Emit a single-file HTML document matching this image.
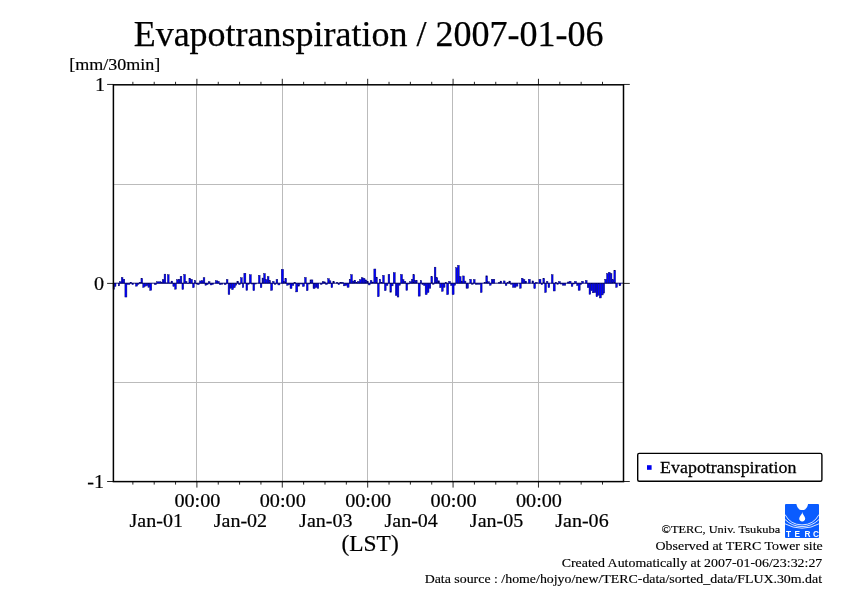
<!DOCTYPE html>
<html><head><meta charset="utf-8"><title>Evapotranspiration</title>
<style>
html,body{margin:0;padding:0;background:#fff;}
body{width:842px;height:595px;overflow:hidden;font-family:"Liberation Serif",serif;}
svg{display:block;position:absolute;left:0;top:0;will-change:transform;}
text{font-family:"Liberation Serif",serif;fill:#000;}
</style></head><body>
<svg width="842" height="595" viewBox="0 0 842 595">
<rect x="0" y="0" width="842" height="595" fill="#fff"/>

<g stroke="#bbbbbb" stroke-width="1" fill="none">
<line x1="196.5" y1="84.8" x2="196.5" y2="481.6"/>
<line x1="282.5" y1="84.8" x2="282.5" y2="481.6"/>
<line x1="367.5" y1="84.8" x2="367.5" y2="481.6"/>
<line x1="452.5" y1="84.8" x2="452.5" y2="481.6"/>
<line x1="538.5" y1="84.8" x2="538.5" y2="481.6"/>
<line x1="113.4" y1="184.5" x2="623.5" y2="184.5"/>
<line x1="113.4" y1="382.5" x2="623.5" y2="382.5"/>
</g>
<g fill="#0000ff" stroke="#000058" stroke-width="0.42">
<rect x="113.08" y="283.25" width="1.41" height="6.23"/>
<rect x="114.59" y="283.25" width="1.41" height="3.20"/>
<rect x="118.23" y="283.25" width="1.41" height="2.60"/>
<rect x="119.44" y="281.71" width="1.72" height="1.44"/>
<rect x="121.26" y="277.47" width="1.72" height="5.68"/>
<rect x="123.07" y="279.28" width="1.72" height="3.87"/>
<rect x="124.89" y="283.25" width="2.02" height="13.80"/>
<rect x="127.01" y="283.25" width="2.93" height="1.20"/>
<rect x="130.04" y="282.31" width="1.72" height="0.84"/>
<rect x="131.86" y="283.25" width="1.72" height="1.39"/>
<rect x="135.49" y="283.25" width="2.02" height="2.90"/>
<rect x="137.61" y="283.25" width="1.41" height="1.08"/>
<rect x="139.12" y="282.31" width="1.72" height="0.84"/>
<rect x="140.94" y="278.38" width="1.72" height="4.77"/>
<rect x="142.76" y="283.25" width="1.72" height="4.11"/>
<rect x="144.57" y="283.25" width="1.72" height="2.90"/>
<rect x="146.39" y="283.25" width="1.41" height="2.29"/>
<rect x="147.91" y="283.25" width="1.72" height="4.11"/>
<rect x="149.72" y="283.25" width="2.02" height="7.14"/>
<rect x="154.27" y="283.25" width="2.32" height="1.39"/>
<rect x="156.69" y="281.71" width="4.26" height="1.44"/>
<rect x="161.05" y="282.31" width="1.11" height="0.84"/>
<rect x="162.26" y="279.59" width="1.72" height="3.56"/>
<rect x="164.08" y="274.14" width="1.72" height="9.01"/>
<rect x="165.90" y="282.92" width="1.41" height="0.23"/>
<rect x="167.41" y="274.74" width="1.72" height="8.41"/>
<rect x="169.23" y="282.92" width="1.72" height="0.23"/>
<rect x="171.04" y="281.10" width="1.72" height="2.05"/>
<rect x="172.86" y="283.25" width="1.72" height="3.20"/>
<rect x="174.68" y="283.25" width="1.72" height="5.93"/>
<rect x="176.50" y="279.59" width="1.72" height="3.56"/>
<rect x="178.31" y="279.28" width="1.72" height="3.87"/>
<rect x="180.13" y="276.26" width="1.72" height="6.89"/>
<rect x="181.95" y="283.25" width="1.72" height="6.23"/>
<rect x="183.76" y="274.44" width="1.72" height="8.71"/>
<rect x="185.58" y="281.40" width="1.41" height="1.75"/>
<rect x="187.10" y="283.25" width="1.72" height="0.48"/>
<rect x="188.91" y="278.25" width="1.72" height="4.90"/>
<rect x="190.73" y="279.28" width="1.72" height="3.87"/>
<rect x="192.55" y="283.25" width="1.72" height="4.41"/>
<rect x="194.36" y="280.50" width="1.41" height="2.65"/>
<rect x="195.88" y="283.25" width="1.41" height="0.78"/>
<rect x="197.39" y="283.25" width="2.02" height="1.39"/>
<rect x="199.51" y="280.92" width="1.72" height="2.23"/>
<rect x="201.33" y="280.68" width="1.72" height="2.47"/>
<rect x="203.15" y="277.77" width="1.72" height="5.38"/>
<rect x="204.96" y="283.25" width="1.72" height="1.99"/>
<rect x="206.78" y="283.25" width="1.41" height="1.39"/>
<rect x="208.29" y="281.71" width="1.72" height="1.44"/>
<rect x="210.11" y="283.25" width="1.84" height="1.69"/>
<rect x="212.05" y="283.25" width="1.72" height="1.20"/>
<rect x="215.38" y="280.68" width="2.02" height="2.47"/>
<rect x="217.50" y="281.28" width="1.72" height="1.87"/>
<rect x="219.32" y="283.25" width="1.72" height="1.39"/>
<rect x="221.14" y="283.25" width="1.72" height="0.96"/>
<rect x="224.16" y="283.25" width="2.02" height="1.39"/>
<rect x="226.28" y="279.47" width="1.72" height="3.68"/>
<rect x="228.10" y="283.25" width="1.72" height="11.26"/>
<rect x="229.92" y="283.25" width="1.72" height="5.02"/>
<rect x="231.74" y="283.25" width="1.72" height="6.41"/>
<rect x="233.55" y="283.25" width="1.72" height="4.41"/>
<rect x="235.37" y="283.25" width="1.41" height="1.99"/>
<rect x="236.88" y="281.28" width="1.72" height="1.87"/>
<rect x="238.70" y="283.25" width="1.72" height="1.39"/>
<rect x="240.52" y="277.77" width="1.72" height="5.38"/>
<rect x="242.34" y="283.25" width="1.41" height="4.41"/>
<rect x="243.85" y="273.23" width="2.02" height="9.92"/>
<rect x="245.97" y="283.25" width="1.72" height="7.14"/>
<rect x="247.79" y="283.25" width="1.41" height="1.08"/>
<rect x="249.30" y="274.74" width="2.02" height="8.41"/>
<rect x="251.42" y="283.25" width="1.41" height="0.78"/>
<rect x="252.93" y="283.25" width="1.72" height="7.44"/>
<rect x="254.75" y="283.25" width="1.72" height="0.78"/>
<rect x="258.39" y="275.35" width="1.72" height="7.80"/>
<rect x="260.20" y="283.25" width="1.72" height="4.41"/>
<rect x="262.02" y="278.07" width="0.93" height="5.08"/>
<rect x="263.05" y="278.07" width="0.51" height="5.08"/>
<rect x="263.66" y="273.53" width="1.72" height="9.62"/>
<rect x="265.47" y="279.59" width="1.72" height="3.56"/>
<rect x="267.29" y="276.56" width="1.72" height="6.59"/>
<rect x="269.11" y="280.50" width="1.41" height="2.65"/>
<rect x="270.62" y="283.25" width="2.02" height="7.14"/>
<rect x="272.74" y="281.40" width="1.41" height="1.75"/>
<rect x="274.26" y="283.25" width="1.72" height="1.20"/>
<rect x="276.07" y="279.47" width="1.72" height="3.68"/>
<rect x="277.89" y="283.25" width="2.02" height="1.69"/>
<rect x="281.22" y="269.29" width="2.32" height="13.86"/>
<rect x="283.64" y="281.40" width="1.11" height="1.75"/>
<rect x="284.86" y="278.50" width="1.72" height="4.65"/>
<rect x="286.67" y="283.25" width="1.72" height="1.99"/>
<rect x="288.49" y="283.25" width="1.41" height="1.39"/>
<rect x="290.00" y="283.25" width="2.02" height="5.32"/>
<rect x="292.12" y="283.25" width="1.72" height="2.29"/>
<rect x="293.94" y="282.31" width="1.72" height="0.84"/>
<rect x="295.76" y="283.25" width="2.02" height="8.65"/>
<rect x="297.88" y="283.25" width="1.72" height="2.90"/>
<rect x="299.69" y="283.25" width="2.63" height="0.78"/>
<rect x="302.42" y="283.25" width="2.02" height="3.20"/>
<rect x="304.54" y="277.47" width="1.72" height="5.68"/>
<rect x="306.36" y="283.25" width="1.72" height="7.44"/>
<rect x="308.17" y="283.25" width="1.72" height="0.78"/>
<rect x="309.99" y="279.89" width="1.41" height="3.26"/>
<rect x="311.51" y="279.89" width="1.41" height="3.26"/>
<rect x="313.02" y="283.25" width="0.93" height="5.32"/>
<rect x="314.05" y="283.25" width="1.11" height="5.32"/>
<rect x="315.26" y="283.25" width="1.72" height="4.11"/>
<rect x="317.08" y="283.25" width="1.72" height="5.02"/>
<rect x="320.41" y="283.25" width="1.72" height="1.20"/>
<rect x="322.23" y="281.71" width="1.72" height="1.44"/>
<rect x="324.04" y="281.89" width="1.41" height="1.26"/>
<rect x="325.56" y="283.25" width="2.02" height="1.20"/>
<rect x="327.68" y="278.68" width="1.72" height="4.47"/>
<rect x="329.50" y="280.80" width="1.41" height="2.35"/>
<rect x="331.01" y="283.25" width="1.72" height="4.41"/>
<rect x="332.83" y="281.71" width="1.72" height="1.44"/>
<rect x="336.46" y="282.49" width="1.41" height="0.66"/>
<rect x="337.98" y="283.25" width="1.72" height="1.39"/>
<rect x="339.79" y="282.62" width="1.72" height="0.53"/>
<rect x="341.61" y="282.31" width="1.72" height="0.84"/>
<rect x="343.43" y="283.25" width="1.72" height="2.60"/>
<rect x="345.24" y="283.25" width="1.72" height="1.99"/>
<rect x="347.06" y="283.25" width="2.02" height="4.11"/>
<rect x="349.18" y="279.28" width="1.41" height="3.87"/>
<rect x="350.69" y="274.62" width="1.72" height="8.53"/>
<rect x="352.51" y="281.10" width="1.41" height="2.05"/>
<rect x="354.03" y="280.19" width="1.72" height="2.96"/>
<rect x="355.84" y="282.62" width="1.72" height="0.53"/>
<rect x="357.66" y="281.40" width="1.72" height="1.75"/>
<rect x="359.48" y="279.59" width="1.72" height="3.56"/>
<rect x="361.29" y="277.77" width="1.72" height="5.38"/>
<rect x="363.11" y="278.38" width="1.84" height="4.77"/>
<rect x="365.05" y="279.89" width="1.72" height="3.26"/>
<rect x="366.87" y="281.40" width="1.41" height="1.75"/>
<rect x="368.38" y="283.25" width="1.72" height="1.69"/>
<rect x="370.20" y="280.50" width="1.72" height="2.65"/>
<rect x="372.02" y="282.01" width="1.72" height="1.14"/>
<rect x="373.83" y="268.99" width="2.02" height="14.16"/>
<rect x="375.95" y="277.16" width="1.41" height="5.99"/>
<rect x="377.47" y="283.25" width="1.72" height="13.50"/>
<rect x="379.28" y="279.28" width="1.41" height="3.87"/>
<rect x="380.80" y="282.31" width="1.72" height="0.84"/>
<rect x="382.62" y="275.35" width="1.72" height="7.80"/>
<rect x="384.43" y="283.25" width="1.72" height="7.44"/>
<rect x="386.25" y="283.25" width="1.72" height="2.29"/>
<rect x="388.07" y="274.44" width="1.72" height="8.71"/>
<rect x="389.88" y="283.25" width="1.72" height="8.96"/>
<rect x="391.70" y="283.25" width="1.41" height="2.60"/>
<rect x="393.22" y="272.62" width="2.02" height="10.53"/>
<rect x="395.34" y="283.25" width="1.72" height="12.29"/>
<rect x="397.15" y="283.25" width="1.72" height="13.80"/>
<rect x="398.97" y="283.25" width="1.41" height="1.99"/>
<rect x="400.48" y="274.44" width="2.02" height="8.71"/>
<rect x="402.60" y="279.59" width="1.41" height="3.56"/>
<rect x="404.12" y="281.40" width="1.72" height="1.75"/>
<rect x="405.93" y="283.25" width="1.72" height="7.14"/>
<rect x="407.75" y="283.25" width="1.72" height="0.78"/>
<rect x="409.57" y="281.71" width="1.72" height="1.44"/>
<rect x="411.39" y="279.28" width="1.41" height="3.87"/>
<rect x="412.90" y="274.74" width="1.72" height="8.41"/>
<rect x="414.72" y="280.50" width="1.23" height="2.65"/>
<rect x="416.05" y="280.50" width="1.11" height="2.65"/>
<rect x="418.17" y="283.25" width="2.02" height="12.89"/>
<rect x="420.29" y="280.50" width="1.41" height="2.65"/>
<rect x="421.80" y="283.25" width="1.72" height="1.39"/>
<rect x="423.62" y="283.25" width="1.41" height="2.29"/>
<rect x="425.14" y="283.25" width="2.02" height="11.38"/>
<rect x="427.26" y="283.25" width="1.72" height="9.26"/>
<rect x="429.07" y="283.25" width="1.72" height="5.02"/>
<rect x="430.89" y="276.56" width="1.72" height="6.59"/>
<rect x="432.71" y="283.25" width="1.41" height="1.08"/>
<rect x="434.22" y="267.17" width="1.72" height="15.98"/>
<rect x="436.04" y="277.77" width="1.72" height="5.38"/>
<rect x="437.86" y="280.80" width="1.72" height="2.35"/>
<rect x="439.67" y="283.25" width="1.72" height="4.41"/>
<rect x="441.49" y="283.25" width="1.72" height="8.05"/>
<rect x="443.31" y="283.25" width="1.72" height="4.11"/>
<rect x="445.12" y="282.31" width="1.41" height="0.84"/>
<rect x="446.64" y="283.25" width="2.02" height="11.38"/>
<rect x="448.76" y="281.40" width="1.72" height="1.75"/>
<rect x="450.57" y="283.25" width="1.41" height="2.29"/>
<rect x="452.09" y="283.25" width="2.02" height="11.38"/>
<rect x="454.21" y="283.25" width="1.41" height="1.99"/>
<rect x="455.72" y="267.78" width="1.72" height="15.37"/>
<rect x="457.54" y="265.35" width="1.72" height="17.80"/>
<rect x="459.36" y="276.56" width="1.72" height="6.59"/>
<rect x="461.17" y="281.10" width="1.41" height="2.05"/>
<rect x="462.69" y="275.95" width="1.72" height="7.20"/>
<rect x="464.51" y="281.10" width="1.41" height="2.05"/>
<rect x="466.02" y="283.25" width="0.93" height="5.02"/>
<rect x="467.05" y="283.25" width="1.41" height="5.02"/>
<rect x="469.78" y="279.28" width="1.72" height="3.87"/>
<rect x="471.59" y="283.25" width="1.72" height="1.08"/>
<rect x="473.41" y="279.47" width="1.72" height="3.68"/>
<rect x="475.23" y="283.25" width="1.72" height="1.20"/>
<rect x="477.04" y="283.25" width="3.23" height="1.08"/>
<rect x="480.38" y="283.25" width="1.72" height="9.26"/>
<rect x="484.01" y="282.31" width="1.72" height="0.84"/>
<rect x="485.83" y="275.83" width="1.72" height="7.32"/>
<rect x="487.64" y="281.71" width="1.72" height="1.44"/>
<rect x="489.46" y="283.25" width="1.72" height="1.99"/>
<rect x="491.28" y="279.28" width="1.72" height="3.87"/>
<rect x="493.10" y="279.28" width="1.72" height="3.87"/>
<rect x="498.55" y="282.31" width="1.41" height="0.84"/>
<rect x="500.06" y="281.10" width="1.72" height="2.05"/>
<rect x="503.39" y="280.92" width="1.72" height="2.23"/>
<rect x="505.21" y="283.25" width="1.72" height="2.29"/>
<rect x="507.03" y="282.62" width="1.72" height="0.53"/>
<rect x="508.84" y="281.10" width="1.72" height="2.05"/>
<rect x="510.66" y="283.25" width="1.72" height="1.08"/>
<rect x="512.48" y="283.25" width="1.72" height="4.11"/>
<rect x="514.29" y="283.25" width="1.72" height="4.11"/>
<rect x="516.11" y="283.25" width="1.84" height="2.90"/>
<rect x="519.56" y="283.25" width="1.72" height="5.02"/>
<rect x="521.38" y="278.25" width="1.72" height="4.90"/>
<rect x="523.20" y="279.59" width="1.72" height="3.56"/>
<rect x="525.02" y="281.28" width="1.72" height="1.87"/>
<rect x="528.35" y="279.28" width="2.02" height="3.87"/>
<rect x="531.98" y="280.92" width="1.72" height="2.23"/>
<rect x="533.80" y="283.25" width="1.72" height="5.32"/>
<rect x="535.62" y="282.31" width="1.72" height="0.84"/>
<rect x="538.95" y="279.28" width="2.02" height="3.87"/>
<rect x="541.07" y="283.25" width="1.72" height="1.39"/>
<rect x="542.88" y="278.38" width="1.72" height="4.77"/>
<rect x="544.70" y="283.25" width="1.72" height="9.26"/>
<rect x="546.52" y="281.40" width="1.41" height="1.75"/>
<rect x="548.03" y="283.25" width="1.72" height="4.41"/>
<rect x="551.36" y="274.74" width="1.72" height="8.41"/>
<rect x="553.18" y="283.25" width="2.02" height="7.75"/>
<rect x="555.30" y="282.31" width="1.41" height="0.84"/>
<rect x="556.81" y="283.25" width="1.72" height="1.08"/>
<rect x="558.63" y="281.53" width="1.72" height="1.62"/>
<rect x="560.45" y="283.25" width="1.72" height="0.78"/>
<rect x="562.27" y="283.25" width="1.72" height="1.99"/>
<rect x="564.08" y="283.25" width="1.72" height="1.99"/>
<rect x="567.41" y="282.01" width="1.54" height="1.14"/>
<rect x="569.05" y="281.28" width="2.02" height="1.87"/>
<rect x="571.17" y="283.25" width="1.72" height="3.20"/>
<rect x="572.99" y="283.25" width="1.41" height="0.78"/>
<rect x="574.50" y="281.40" width="2.02" height="1.75"/>
<rect x="576.62" y="283.25" width="1.41" height="2.29"/>
<rect x="578.14" y="283.25" width="2.02" height="7.14"/>
<rect x="580.26" y="283.25" width="1.41" height="1.39"/>
<rect x="581.77" y="281.28" width="1.72" height="1.87"/>
<rect x="585.40" y="280.50" width="1.72" height="2.65"/>
<rect x="587.22" y="283.25" width="1.72" height="4.41"/>
<rect x="589.04" y="283.25" width="1.72" height="11.08"/>
<rect x="590.86" y="283.25" width="1.41" height="7.44"/>
<rect x="592.37" y="283.25" width="1.72" height="9.56"/>
<rect x="594.19" y="283.25" width="1.72" height="9.26"/>
<rect x="596.00" y="283.25" width="1.72" height="13.50"/>
<rect x="597.82" y="283.25" width="1.41" height="11.99"/>
<rect x="599.34" y="283.25" width="2.02" height="14.71"/>
<rect x="601.45" y="283.25" width="1.72" height="11.68"/>
<rect x="603.27" y="283.25" width="1.41" height="9.87"/>
<rect x="604.79" y="279.28" width="1.72" height="3.87"/>
<rect x="606.60" y="273.53" width="1.72" height="9.62"/>
<rect x="608.42" y="272.32" width="1.72" height="10.83"/>
<rect x="610.24" y="273.53" width="1.72" height="9.62"/>
<rect x="612.05" y="279.59" width="1.72" height="3.56"/>
<rect x="613.87" y="270.20" width="1.72" height="12.95"/>
<rect x="615.69" y="283.25" width="1.72" height="4.11"/>
<rect x="619.02" y="283.25" width="0.93" height="2.29"/>
<rect x="619.13" y="283.25" width="1.72" height="2.29"/>
</g>
<line x1="113.4" y1="283.20" x2="623.5" y2="283.20" stroke="#000070" stroke-width="0.9"/>
<rect x="113.4" y="84.8" width="510.10" height="396.80" fill="none" stroke="#000" stroke-width="1.5"/>
<g stroke="#000" stroke-width="0.85" fill="none">
<line x1="107.10000000000001" y1="84.45" x2="113.4" y2="84.45"/>
<line x1="623.5" y1="84.45" x2="629.8" y2="84.45"/>
<line x1="107.10000000000001" y1="283.40" x2="113.4" y2="283.40"/>
<line x1="623.5" y1="283.40" x2="629.8" y2="283.40"/>
<line x1="107.10000000000001" y1="481.50" x2="113.4" y2="481.50"/>
<line x1="623.5" y1="481.50" x2="629.8" y2="481.50"/>
<line x1="132.86" y1="481.6" x2="132.86" y2="484.6"/>
<line x1="132.86" y1="84.8" x2="132.86" y2="81.8"/>
<line x1="154.21" y1="481.6" x2="154.21" y2="484.6"/>
<line x1="154.21" y1="84.8" x2="154.21" y2="81.8"/>
<line x1="175.55" y1="481.6" x2="175.55" y2="484.6"/>
<line x1="175.55" y1="84.8" x2="175.55" y2="81.8"/>
<line x1="196.90" y1="481.6" x2="196.90" y2="487.6"/>
<line x1="196.90" y1="84.8" x2="196.90" y2="78.8"/>
<line x1="218.25" y1="481.6" x2="218.25" y2="484.6"/>
<line x1="218.25" y1="84.8" x2="218.25" y2="81.8"/>
<line x1="239.59" y1="481.6" x2="239.59" y2="484.6"/>
<line x1="239.59" y1="84.8" x2="239.59" y2="81.8"/>
<line x1="260.94" y1="481.6" x2="260.94" y2="484.6"/>
<line x1="260.94" y1="84.8" x2="260.94" y2="81.8"/>
<line x1="282.29" y1="481.6" x2="282.29" y2="487.6"/>
<line x1="282.29" y1="84.8" x2="282.29" y2="78.8"/>
<line x1="303.64" y1="481.6" x2="303.64" y2="484.6"/>
<line x1="303.64" y1="84.8" x2="303.64" y2="81.8"/>
<line x1="324.99" y1="481.6" x2="324.99" y2="484.6"/>
<line x1="324.99" y1="84.8" x2="324.99" y2="81.8"/>
<line x1="346.33" y1="481.6" x2="346.33" y2="484.6"/>
<line x1="346.33" y1="84.8" x2="346.33" y2="81.8"/>
<line x1="367.68" y1="481.6" x2="367.68" y2="487.6"/>
<line x1="367.68" y1="84.8" x2="367.68" y2="78.8"/>
<line x1="389.03" y1="481.6" x2="389.03" y2="484.6"/>
<line x1="389.03" y1="84.8" x2="389.03" y2="81.8"/>
<line x1="410.38" y1="481.6" x2="410.38" y2="484.6"/>
<line x1="410.38" y1="84.8" x2="410.38" y2="81.8"/>
<line x1="431.72" y1="481.6" x2="431.72" y2="484.6"/>
<line x1="431.72" y1="84.8" x2="431.72" y2="81.8"/>
<line x1="453.07" y1="481.6" x2="453.07" y2="487.6"/>
<line x1="453.07" y1="84.8" x2="453.07" y2="78.8"/>
<line x1="474.42" y1="481.6" x2="474.42" y2="484.6"/>
<line x1="474.42" y1="84.8" x2="474.42" y2="81.8"/>
<line x1="495.76" y1="481.6" x2="495.76" y2="484.6"/>
<line x1="495.76" y1="84.8" x2="495.76" y2="81.8"/>
<line x1="517.11" y1="481.6" x2="517.11" y2="484.6"/>
<line x1="517.11" y1="84.8" x2="517.11" y2="81.8"/>
<line x1="538.46" y1="481.6" x2="538.46" y2="487.6"/>
<line x1="538.46" y1="84.8" x2="538.46" y2="78.8"/>
<line x1="559.81" y1="481.6" x2="559.81" y2="484.6"/>
<line x1="559.81" y1="84.8" x2="559.81" y2="81.8"/>
<line x1="581.15" y1="481.6" x2="581.15" y2="484.6"/>
<line x1="581.15" y1="84.8" x2="581.15" y2="81.8"/>
<line x1="602.50" y1="481.6" x2="602.50" y2="484.6"/>
<line x1="602.50" y1="84.8" x2="602.50" y2="81.8"/>
</g>
<text transform="translate(368.60,46.00) scale(1.0,1)" font-size="36" text-anchor="middle" stroke="#000" stroke-width="0.25">Evapotranspiration / 2007-01-06</text>
<text transform="translate(69.20,69.70) scale(1.02,1)" font-size="17.7" text-anchor="start" stroke="#000" stroke-width="0.2">[mm/30min]</text>
<text transform="translate(105.20,91.20) scale(1.07,1)" font-size="18.9" text-anchor="end" stroke="#000" stroke-width="0.2">1</text>
<text transform="translate(104.20,289.60) scale(1.07,1)" font-size="18.9" text-anchor="end" stroke="#000" stroke-width="0.2">0</text>
<text transform="translate(104.20,488.00) scale(1.07,1)" font-size="18.9" text-anchor="end" stroke="#000" stroke-width="0.2">-1</text>
<text transform="translate(197.40,506.90) scale(1.07,1)" font-size="18.9" text-anchor="middle" stroke="#000" stroke-width="0.2">00:00</text>
<text transform="translate(282.79,506.90) scale(1.07,1)" font-size="18.9" text-anchor="middle" stroke="#000" stroke-width="0.2">00:00</text>
<text transform="translate(368.18,506.90) scale(1.07,1)" font-size="18.9" text-anchor="middle" stroke="#000" stroke-width="0.2">00:00</text>
<text transform="translate(453.57,506.90) scale(1.07,1)" font-size="18.9" text-anchor="middle" stroke="#000" stroke-width="0.2">00:00</text>
<text transform="translate(538.96,506.90) scale(1.07,1)" font-size="18.9" text-anchor="middle" stroke="#000" stroke-width="0.2">00:00</text>
<text transform="translate(156.21,526.70) scale(1.06,1)" font-size="18.9" text-anchor="middle" stroke="#000" stroke-width="0.2">Jan-01</text>
<text transform="translate(240.40,526.70) scale(1.06,1)" font-size="18.9" text-anchor="middle" stroke="#000" stroke-width="0.2">Jan-02</text>
<text transform="translate(325.79,526.70) scale(1.06,1)" font-size="18.9" text-anchor="middle" stroke="#000" stroke-width="0.2">Jan-03</text>
<text transform="translate(411.18,526.70) scale(1.06,1)" font-size="18.9" text-anchor="middle" stroke="#000" stroke-width="0.2">Jan-04</text>
<text transform="translate(496.56,526.70) scale(1.06,1)" font-size="18.9" text-anchor="middle" stroke="#000" stroke-width="0.2">Jan-05</text>
<text transform="translate(581.95,526.70) scale(1.06,1)" font-size="18.9" text-anchor="middle" stroke="#000" stroke-width="0.2">Jan-06</text>
<text transform="translate(370.10,551.00) scale(0.985,1)" font-size="23.8" text-anchor="middle" stroke="#000" stroke-width="0.2">(LST)</text>
<rect x="637.7" y="453.4" width="184.2" height="27.9" rx="1.5" ry="1.5" fill="#fff" stroke="#000" stroke-width="1.4"/>
<rect x="647" y="465.2" width="4.6" height="4.6" fill="#0000ee"/>
<text transform="translate(660.10,472.90) scale(1.06,1)" font-size="16.9" text-anchor="start" stroke="#000" stroke-width="0.25">Evapotranspiration</text>
<text transform="translate(780.20,532.50) scale(1.085,1)" font-size="11.4" text-anchor="end" stroke="#000" stroke-width="0.15">©TERC, Univ. Tsukuba</text>
<text transform="translate(822.80,549.70) scale(1.09,1)" font-size="12.8" text-anchor="end" stroke="#000" stroke-width="0.15">Observed at TERC Tower site</text>
<text transform="translate(822.30,566.80) scale(1.087,1)" font-size="12.8" text-anchor="end" stroke="#000" stroke-width="0.15">Created Automatically at 2007-01-06/23:32:27</text>
<text transform="translate(822.00,583.40) scale(1.085,1)" font-size="12.8" text-anchor="end" stroke="#000" stroke-width="0.15">Data source : /home/hojyo/new/TERC-data/sorted_data/FLUX.30m.dat</text>
<g transform="translate(785,504)">
<defs><clipPath id="lg"><rect x="0" y="0" width="34" height="33.9" rx="1" ry="1"/></clipPath></defs>
<g clip-path="url(#lg)">
<rect x="0" y="0" width="34" height="34" fill="#0a5cff"/>
<path d="M11.3,-0.5 C11.6,2.6 13.8,5.9 15.8,5.9 L18.6,5.9 C20.6,5.9 22.8,2.6 23.1,-0.5 Z" fill="#fff"/>
<path d="M17.3,8 C17.3,10.4 14.2,12.2 14.2,14.6 C14.2,16.3 15.4,17.5 17.2,17.5 C19,17.5 20.2,16.3 20.2,14.6 C20.2,12.2 17.3,10.4 17.3,8 Z" fill="#fff"/>
<g fill="none" stroke="#fff" stroke-width="0.85">
<path d="M0,10.5 A19.1,19.1 0 0 0 34,10.5"/>
<path d="M0,15.5 A23.9,23.9 0 0 0 34,15.5"/>
<path d="M0,19.8 A35,35 0 0 0 34,19.8"/>
</g>
<g style="font-family:'Liberation Sans',sans-serif;font-weight:bold;font-size:8.3px;fill:#fff" text-anchor="middle">
<text x="3.5" y="32.9" style="font-family:'Liberation Sans',sans-serif;fill:#fff">T</text><text x="12.2" y="32.9" style="font-family:'Liberation Sans',sans-serif;fill:#fff">E</text><text x="22.5" y="32.9" style="font-family:'Liberation Sans',sans-serif;fill:#fff">R</text><text x="31" y="32.9" style="font-family:'Liberation Sans',sans-serif;fill:#fff">C</text>
</g>
</g>
</g>

</svg></body></html>
